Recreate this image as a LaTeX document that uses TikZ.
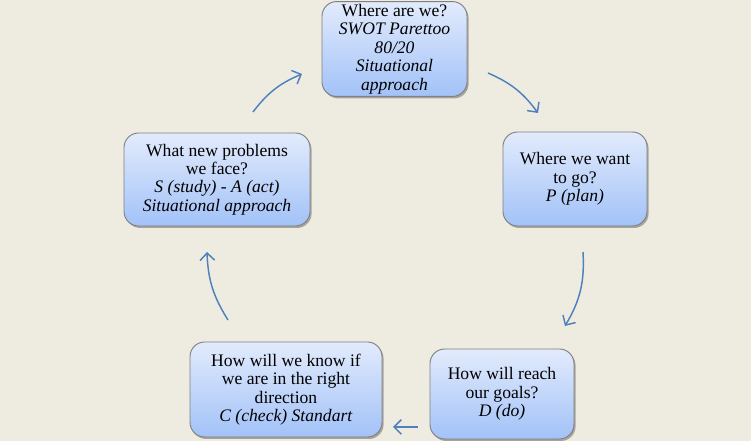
\documentclass[tikz,border=0pt]{standalone}
\usepackage{fontspec}
\setmainfont{Liberation Serif}
\usetikzlibrary{arrows.meta,shadows}
\definecolor{bgbeige}{HTML}{EEECE1}
\definecolor{boxtop}{HTML}{E2EBFC}
\definecolor{boxbot}{HTML}{A2C2F8}
\definecolor{boxline}{HTML}{808080}
\definecolor{arrowblue}{HTML}{4F81BD}
\tikzset{
  cyclebox/.style={draw=boxline, line width=0.7pt, rounded corners=11pt,
    top color=boxtop, bottom color=boxbot, align=center,
    inner sep=2pt, font=\fontsize{13.2}{13.8}\selectfont,
    drop shadow={shadow xshift=1.2pt, shadow yshift=-1.5pt, fill=black, opacity=0.3}},
  cyclearrow/.style={draw=arrowblue, line width=1.1pt,
    -{Straight Barb[length=5.5pt,width=11pt,line width=1.1pt]}}
}
\begin{document}
\begin{tikzpicture}[x=0.75pt,y=-0.75pt]
\fill[bgbeige] (0,0) rectangle (751,441);
\useasboundingbox (0,0) rectangle (751,441);

\node[cyclebox, minimum width=145*0.75pt, minimum height=94*0.75pt] (where) at (394.5,49)
  {Where are we?\\ \textit{SWOT Parettoo}\\ \textit{80/20}\\ \textit{Situational}\\ \textit{approach}};
\node[cyclebox, minimum width=144*0.75pt, minimum height=94*0.75pt] (want) at (575,179)
  {Where we want\\ to go?\\ \textit{P (plan)}};
\node[cyclebox, minimum width=144*0.75pt, minimum height=90*0.75pt] (reach) at (502,394)
  {How will reach\\ our goals?\\ \textit{D (do)}};
\node[cyclebox, minimum width=192*0.75pt, minimum height=95*0.75pt] (know) at (286,389.5)
  {How will we know if\\ we are in the right\\ direction\\ \textit{C (check) Standart}};
\node[cyclebox, minimum width=186*0.75pt, minimum height=93*0.75pt] (newp) at (217,179.5)
  {What new problems\\ we face?\\ \textit{S (study) - A (act)}\\ \textit{Situational approach}};

\coordinate (a1s) at (488,73);  \coordinate (a1e) at (538,113);
\coordinate (a2s) at (583,252); \coordinate (a2e) at (565,326);
\coordinate (a3s) at (418,427); \coordinate (a3e) at (393,427);
\coordinate (a4s) at (228,320); \coordinate (a4e) at (207,252);
\coordinate (a5s) at (253,112); \coordinate (a5e) at (302,74);

\draw[cyclearrow] (a1s) to[bend left=15] (a1e);
\draw[cyclearrow] (a2s) to[bend left=17] (a2e);
\draw[cyclearrow] (a3s) -- (a3e);
\draw[cyclearrow] (a4s) to[bend left=15] (a4e);
\draw[cyclearrow] (a5s) to[bend left=15] (a5e);
\end{tikzpicture}
\end{document}
